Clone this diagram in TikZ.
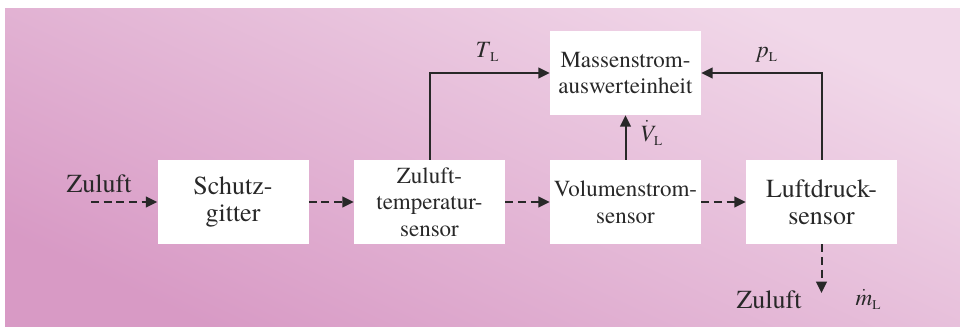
\documentclass[tikz,border=0pt]{standalone}
\usepackage{fontspec}
\setmainfont{TeX Gyre Termes}
\usetikzlibrary{arrows.meta}

\definecolor{bgdark}{RGB}{216,154,197}
\definecolor{bgmid}{RGB}{227,178,211}
\definecolor{bglight}{RGB}{241,216,233}
\definecolor{ink}{RGB}{40,40,40}

% Formelzeichen mit Index L
\newcommand{\idxL}[1]{#1\raisebox{-0.4ex}{\fontsize{10}{10}\selectfont L}}

\begin{document}
\begin{tikzpicture}[%
		x=0.75pt, y=-0.75pt,
		block/.style={fill=white, minimum width=113.25pt, minimum height=63pt, inner sep=0pt,
			align=center, text=ink, font=\rmfamily\fontsize{17.25}{20}\selectfont},
		bigblock/.style={block, font=\rmfamily\fontsize{19.5}{20.25}\selectfont},
		flow/.style={draw=ink, line width=1.5pt, dash pattern=on 6pt off 3.5pt,
			-{Triangle[length=8.5pt,width=8pt]}},
		signal/.style={draw=ink, line width=1.5pt, -{Triangle[length=8.5pt,width=8pt]}},
		lbl/.style={text=ink, font=\rmfamily\fontsize{19.5}{20}\selectfont, inner sep=0pt, anchor=base},
		sym/.style={text=ink, font=\rmfamily\fontsize{17.5}{19}\selectfont, inner sep=0pt, anchor=base}
		]

		\useasboundingbox (0,0) rectangle (960,326);
		\shade[bottom color=bgdark, middle color=bgmid, top color=bglight, shading angle=-25]
			(5,8) rectangle (960,326);

		%% Bloecke
		\node[bigblock] (schutz) at (233,202) {Schutz-\\gitter};
		\node[block] (temp) at (429.5,202) {Zuluft-\\temperatur-\\sensor};
		\node[block] (vol) at (625.5,202) {Volumenstrom-\\sensor};
		\node[bigblock] (luft) at (821.5,202) {Luftdruck-\\sensor};
		\node[block] (masse) at (625.5,73) {Massenstrom-\\auswerteinheit};

		\coordinate (ein) at (91,202);
		\coordinate (aus) at (821.5,293);

		%% Beschriftungen
		\node[lbl] (zuluftein) at (99,192) {Zuluft};
		\node[lbl] (zuluftaus) at (769,308) {Zuluft};
		\node[sym] (tl) at (487,57) {\idxL{\textit{T}}};
		\node[sym] (pl) at (767,57) {\idxL{\textit{p}}};
		\node[sym] (vl) at (651,141) {\idxL{$\dot{\textit{V}}$}};
		\node[sym] (ml) at (868,305) {\idxL{$\dot{\textit{m}}$}};

		%% Luftweg
		\draw[flow] (ein) -- (schutz);
		\draw[flow] (schutz) -- (temp);
		\draw[flow] (temp) -- (vol);
		\draw[flow] (vol) -- (luft);
		\draw[flow] (luft) -- (aus);

		%% Messsignale
		\draw[signal] (temp.north) |- (masse.west);
		\draw[signal] (luft.north) |- (masse.east);
		\draw[signal] (vol) -- (masse);
	\end{tikzpicture}
\end{document}
